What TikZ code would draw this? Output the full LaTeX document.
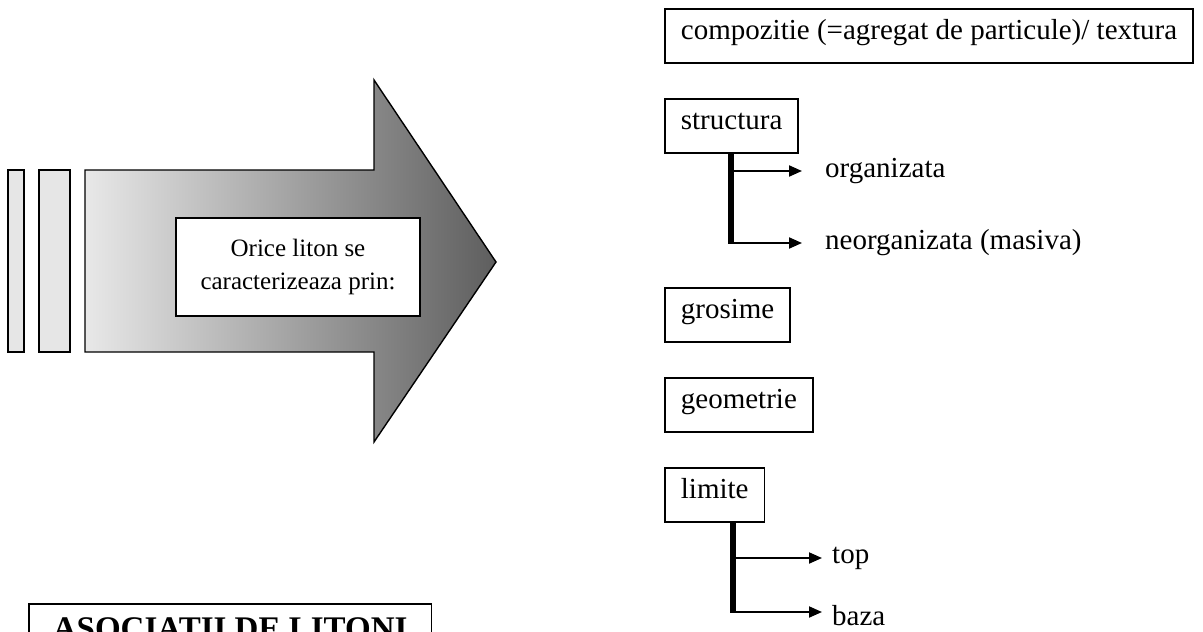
\documentclass[tikz,border=0pt]{standalone}
\usepackage{fontspec}
\setmainfont{Liberation Serif}
\usetikzlibrary{arrows.meta}
\definecolor{barfill}{HTML}{E6E6E6}
\definecolor{shadeL}{HTML}{E8E8E8}
\definecolor{shadeR}{HTML}{5E5E5E}
\begin{document}
\begin{tikzpicture}[x=1pt,y=-1pt,
  box/.style={draw, line width=1.8pt, anchor=north west, inner xsep=16pt, inner ysep=0pt,
    minimum height=54pt, text height=0.91em, text depth=0.22em, font=\fontsize{29}{33}\selectfont},
  lbl/.style={anchor=west, inner sep=0pt, font=\fontsize{29}{33}\selectfont},
  trunk/.style={line width=6pt},
  branch/.style={line width=2pt, -{Triangle[length=13pt,width=11pt]}},
  bar/.style={draw, line width=1.4pt, fill=barfill}]
\useasboundingbox (0,0) rectangle (1203,632);
\clip (0,0) rectangle (1203,632);

% left bars and big arrow
\draw[bar] (8,170) rectangle (24,352);
\draw[bar] (39,170) rectangle (70,352);
\draw[line width=1.4pt, left color=shadeL, right color=shadeR]
  (85,170) -- (374,170) -- (374,80) -- (496,262) -- (374,442) -- (374,352) -- (85,352) -- cycle;
\node[draw, fill=white, line width=1.4pt, minimum width=244pt, minimum height=98pt, inner sep=0pt,
  align=center, font=\fontsize{25}{33}\selectfont] (inner) at (298,267)
  {Orice liton se\\caracterizeaza prin:};

% right column
\node[box] (comp) at (664,8) {compozitie (=agregat de particule)/ textura};
\node[box] (struct) at (664,98) {structura};
\node[box] (gros) at (664,287) {grosime};
\node[box] (geom) at (664,377) {geometrie};
\node[box] (lim) at (664,467) {limite};

% structura branches
\node[lbl] (org) at (825,171) {organizata};
\node[lbl] (neo) at (825,243) {neorganizata (masiva)};
\coordinate (s1) at (731,243);
\draw[trunk] (s1 |- struct.south) -- ([yshift=1pt]s1);
\draw[branch] (org.west -| s1) -- ([xshift=-23pt]org.west);
\draw[branch] ([xshift=-3pt]s1) -- ([xshift=-23pt]neo.west);

% limite branches
\node[lbl] (top) at (832,558) {top};
\node[lbl] (baza) at (832,616) {baza};
\coordinate (s2) at (733,612);
\draw[trunk] (s2 |- lim.south) -- ([yshift=1pt]s2);
\draw[branch] (top.west -| s2) -- ([xshift=-10pt]top.west);
\draw[branch] ([xshift=-3pt]s2) -- ([xshift=-10pt]s2 -| baza.west);

% bottom-left title box (cut by the page edge, as in the reference)
\node[draw, line width=1.8pt, anchor=north west, inner xsep=24pt, inner ysep=14pt,
  font=\fontsize{33}{38}\selectfont\bfseries] (asoc) at (28,603) {ASOCIATII DE LITONI};
\end{tikzpicture}
\end{document}
